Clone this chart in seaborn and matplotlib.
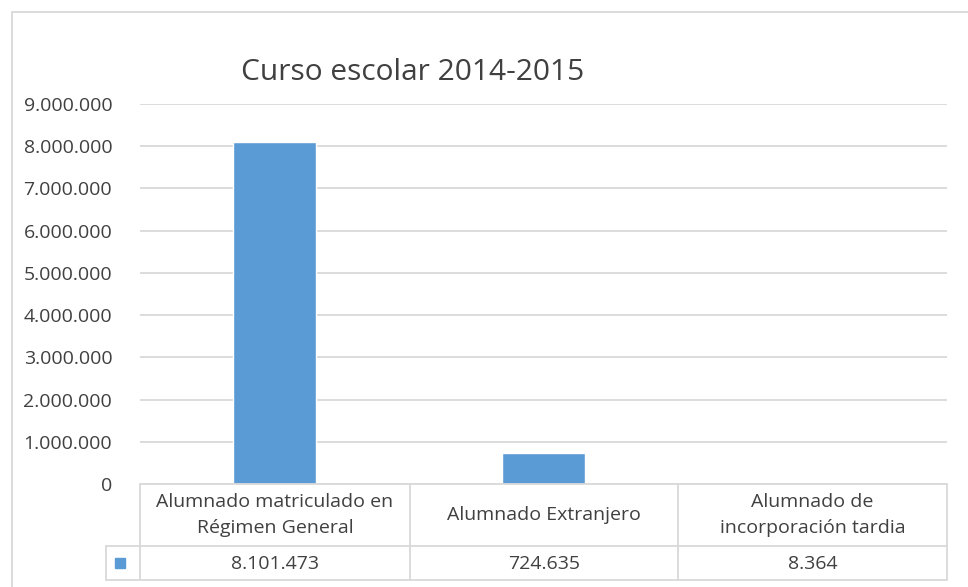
import matplotlib
matplotlib.use("Agg")
import matplotlib.pyplot as plt
import seaborn as sns
import pandas as pd
from matplotlib.patches import Rectangle
from matplotlib.lines import Line2D

# Data
categories = [
    "Alumnado matriculado en\nRégimen General",
    "Alumnado Extranjero",
    "Alumnado de\nincorporación tardia",
]
values = [8101473, 724635, 8364]
value_labels = ["8.101.473", "724.635", "8.364"]
yticks = [0, 1000000, 2000000, 3000000, 4000000, 5000000, 6000000, 7000000, 8000000, 9000000]
ytick_labels = ["0", "1.000.000", "2.000.000", "3.000.000", "4.000.000",
                "5.000.000", "6.000.000", "7.000.000", "8.000.000", "9.000.000"]
title = "Curso escolar 2014-2015"

sns.set_style("white")
plt.rcParams["font.family"] = ["Open Sans", "DejaVu Sans"]

W, H = 968, 587
fig = plt.figure(figsize=(W / 100, H / 100), dpi=100)

# plot area in pixels
x0, x1, ytop, ybot = 140, 947, 104, 484
ax = fig.add_axes([x0 / W, 1 - ybot / H, (x1 - x0) / W, (ybot - ytop) / H])

df = pd.DataFrame({"cat": range(len(categories)), "val": values})
bar_color = "#5B9BD5"
sns.barplot(data=df, x="cat", y="val", color=bar_color, width=0.31,
            saturation=1, ax=ax)

ax.set_ylim(0, 9000000)
ax.set_xlim(-0.5, 2.5)
ax.set_yticks(yticks)
ax.set_yticklabels(ytick_labels, fontsize=14, color="#404040")
ax.yaxis.grid(True, color="#d9d9d9", linewidth=1.3)
ax.set_axisbelow(True)
ax.set_xticks([])
ax.set_xlabel("")
ax.set_ylabel("")
for s in ["top", "right", "left", "bottom"]:
    ax.spines[s].set_visible(False)
ax.tick_params(axis="y", length=0, pad=20)

# title
fig.text(413 / W, 1 - 72 / H, title, fontsize=21.5, color="#404040",
         ha="center", va="center")


def fx(px):
    return px / W


def fy(py):
    return 1 - py / H


line_kw = dict(color="#d9d9d9", linewidth=1.3, transform=fig.transFigure)

# chart border
fig.add_artist(Rectangle((fx(12), fy(620)), fx(1000), 608 / H, fill=False,
                         edgecolor="#d9d9d9", linewidth=1.3,
                         transform=fig.transFigure))

# data table
col_edges = [140, 410, 678, 947]
row_top, row_mid, row_bot = 484, 546, 580
key_left = 106
fig.add_artist(Line2D([fx(140), fx(947)], [fy(row_top)] * 2, **line_kw))
fig.add_artist(Line2D([fx(key_left), fx(947)], [fy(row_mid)] * 2, **line_kw))
fig.add_artist(Line2D([fx(key_left), fx(947)], [fy(row_bot)] * 2, **line_kw))
for cx in col_edges:
    fig.add_artist(Line2D([fx(cx)] * 2, [fy(row_top), fy(row_bot)], **line_kw))
fig.add_artist(Line2D([fx(key_left)] * 2, [fy(row_mid), fy(row_bot)], **line_kw))

for i, (cat, lab) in enumerate(zip(categories, value_labels)):
    cx = (col_edges[i] + col_edges[i + 1]) / 2
    fig.text(fx(cx), fy((row_top + row_mid) / 2), cat, fontsize=14,
             color="#404040", ha="center", va="center", linespacing=1.6)
    fig.text(fx(cx), fy((row_mid + row_bot) / 2 + 1), lab, fontsize=14,
             color="#404040", ha="center", va="center")

# legend key
fig.add_artist(Rectangle((fx(115), fy(568)), 10 / W, 10 / H, color=bar_color,
                         transform=fig.transFigure))

fig.savefig("out.png", dpi=100)
